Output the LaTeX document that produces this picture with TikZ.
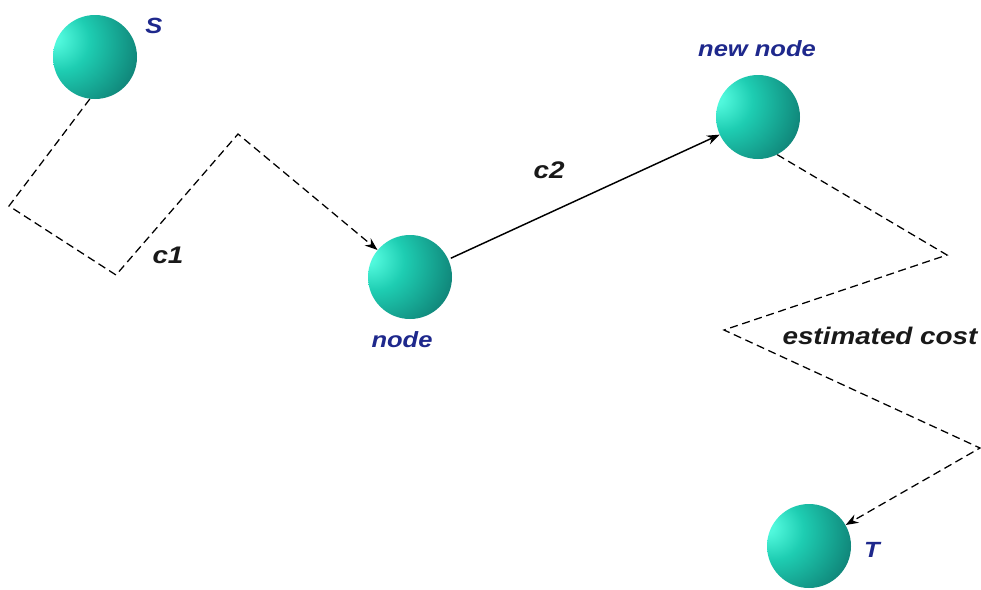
\documentclass[tikz,border=0pt]{standalone}
\usepackage{fontspec}
\newfontfamily\labfont[FakeStretch=1.16]{Liberation Sans}
\usetikzlibrary{arrows.meta}
\definecolor{sphHL}{RGB}{80,248,220}
\definecolor{sphLt}{RGB}{30,205,178}
\definecolor{sphMid}{RGB}{18,145,130}
\definecolor{sphDk}{RGB}{12,95,95}
\definecolor{sphEdge}{RGB}{22,55,90}
\definecolor{labblue}{RGB}{30,40,140}
\pgfdeclareradialshading{sphere}{\pgfpoint{-26bp}{12bp}}{%
  color(0bp)=(sphHL); color(4bp)=(sphHL); color(18bp)=(sphLt);
  color(38bp)=(sphMid); color(54bp)=(sphDk); color(66bp)=(sphEdge); color(100bp)=(sphEdge)}
\tikzset{
  ball/.style={circle, minimum size=63pt, inner sep=0pt, shading=sphere},
  bluelab/.style={font=\labfont\bfseries\itshape\fontsize{16.5}{18}\selectfont, text=labblue, inner sep=0pt, anchor=base},
  blacklab/.style={font=\labfont\bfseries\itshape\fontsize{18}{20}\selectfont, text=black!90, inner sep=0pt, anchor=base},
  dashline/.style={line width=0.95pt, dash pattern=on 6pt off 3.5pt},
  tip/.style={-{Stealth[length=9.5pt,width=7pt]}}
}
\begin{document}
\begin{tikzpicture}[x=0.75pt,y=-0.75pt]
\useasboundingbox (0,0) rectangle (981,589);
% spheres
\node[ball] (S) at (95,57) {};
\node[ball] (n) at (410,277) {};
\node[ball] (nn) at (758,117) {};
\node[ball] (T) at (809,546) {};
% labels
\node[bluelab] (lS) at (154,33) {S};
\node[bluelab] (ln) at (402,347) {node};
\node[bluelab] (lnn) at (757,56) {new node};
\node[bluelab] (lT) at (872,557) {T};
\node[blacklab] (lc1) at (168,263) {c1};
\node[blacklab] (lc2) at (549,178) {c2};
\node[blacklab] (lec) at (880,344) {estimated cost};
% path S -> node
\coordinate (a1) at (9,206);
\coordinate (a2) at (116,275);
\coordinate (a3) at (238,134);
\draw[dashline, tip] (S.-97) -- (a1) -- (a2) -- (a3) -- (n);
% node -> new node
\draw[line width=1.1pt, tip, shorten <=2pt] (n) -- (nn);
% new node -> T
\coordinate (b1) at (947,255);
\coordinate (b2) at (724,330);
\coordinate (b3) at (980,448);
\draw[dashline, tip] (nn.-63) -- (b1) -- (b2) -- (b3) -- (T);
\end{tikzpicture}
\end{document}
